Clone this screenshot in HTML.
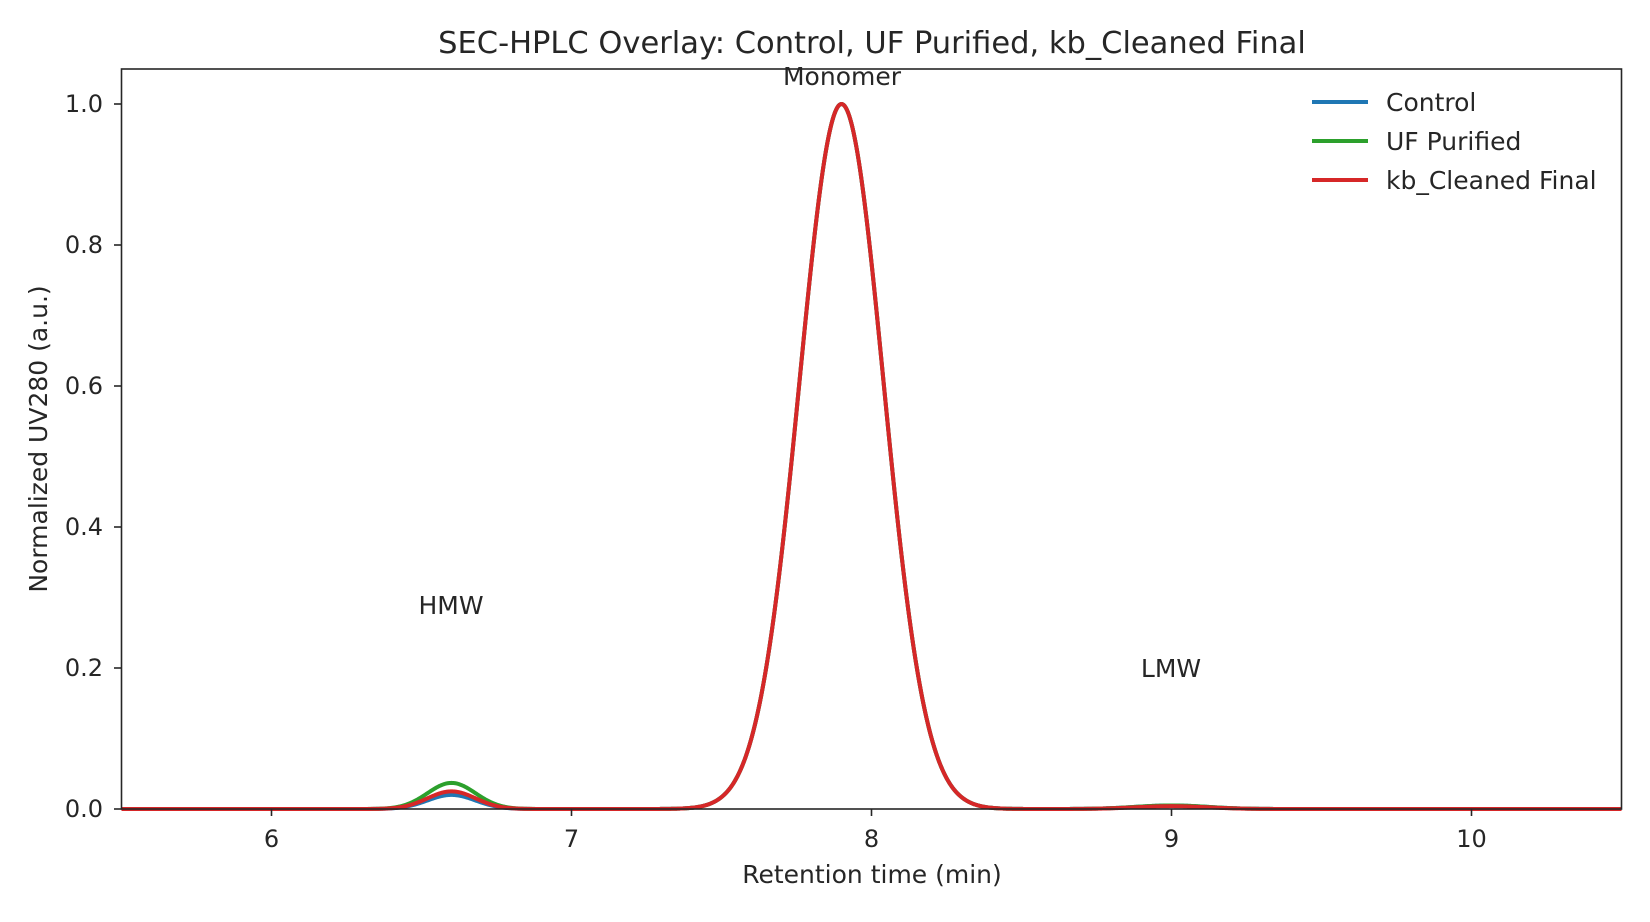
<!DOCTYPE html>
<html><head><meta charset="utf-8"><style>
body{margin:0;background:#fff;}
svg text{font-family:"DejaVu Sans","Liberation Sans",sans-serif;fill:#262626;}
</style></head><body>
<svg id="s" width="1650" height="917" xmlns="http://www.w3.org/2000/svg">
<rect width="1650" height="917" fill="#fff"/>
<text x="872" y="53" font-size="30.5" text-anchor="middle">SEC-HPLC Overlay: Control, UF Purified, kb_Cleaned Final</text>
<g id="curves"></g>
<rect x="121.5" y="69" width="1500" height="740" fill="none" stroke="#262626" stroke-width="1.6"/>
<g stroke="#262626" stroke-width="1.6">
<line x1="271.5" y1="809" x2="271.5" y2="816"/><line x1="571.5" y1="809" x2="571.5" y2="816"/><line x1="871.5" y1="809" x2="871.5" y2="816"/><line x1="1171.5" y1="809" x2="1171.5" y2="816"/><line x1="1471.5" y1="809" x2="1471.5" y2="816"/>
<line x1="114" y1="809" x2="121.5" y2="809"/><line x1="114" y1="668" x2="121.5" y2="668"/><line x1="114" y1="527" x2="121.5" y2="527"/><line x1="114" y1="386" x2="121.5" y2="386"/><line x1="114" y1="245" x2="121.5" y2="245"/><line x1="114" y1="104" x2="121.5" y2="104"/>
</g>
<g font-size="24" text-anchor="middle">
<text x="271.5" y="847">6</text><text x="571.5" y="847">7</text><text x="871.5" y="847">8</text><text x="1171.5" y="847">9</text><text x="1471.5" y="847">10</text>
</g>
<g font-size="24" text-anchor="end">
<text x="103" y="817">0.0</text><text x="103" y="676">0.2</text><text x="103" y="535">0.4</text><text x="103" y="394">0.6</text><text x="103" y="253">0.8</text><text x="103" y="112">1.0</text>
</g>
<text x="872" y="883" font-size="25" text-anchor="middle">Retention time (min)</text>
<text transform="translate(47,439) rotate(-90)" font-size="25" text-anchor="middle">Normalized UV280 (a.u.)</text>
<g font-size="25" text-anchor="middle">
<text x="842" y="85">Monomer</text><text x="451" y="614">HMW</text><text x="1171" y="677">LMW</text>
</g>
<g stroke-width="4">
<line x1="1312" y1="102" x2="1368" y2="102" stroke="#1f77b4"/>
<line x1="1312" y1="141" x2="1368" y2="141" stroke="#2ca02c"/>
<line x1="1312" y1="180" x2="1368" y2="180" stroke="#d62728"/>
</g>
<g font-size="25">
<text x="1386" y="111">Control</text><text x="1386" y="150">UF Purified</text><text x="1386" y="189">kb_Cleaned Final</text>
</g>
</svg>
<script>
function path(h,l,c){var d="";for(var i=0;i<=1500;i++){var t=5.5+i/300;
var y=Math.exp(-Math.pow(t-7.9,2)/(2*0.14*0.14))+h*Math.exp(-Math.pow(t-6.6,2)/(2*0.08*0.08))+l*Math.exp(-Math.pow(t-9.0,2)/(2*0.12*0.12));
d+=(i?"L":"M")+(121.5+i).toFixed(1)+","+(809-705*y).toFixed(2);}
return '<path d="'+d+'" fill="none" stroke="'+c+'" stroke-width="4" stroke-linejoin="round"/>';}
document.getElementById("curves").innerHTML=path(0.02,0.005,"#1f77b4")+path(0.037,0.005,"#2ca02c")+path(0.025,0.004,"#d62728");
</script>
</body></html>
